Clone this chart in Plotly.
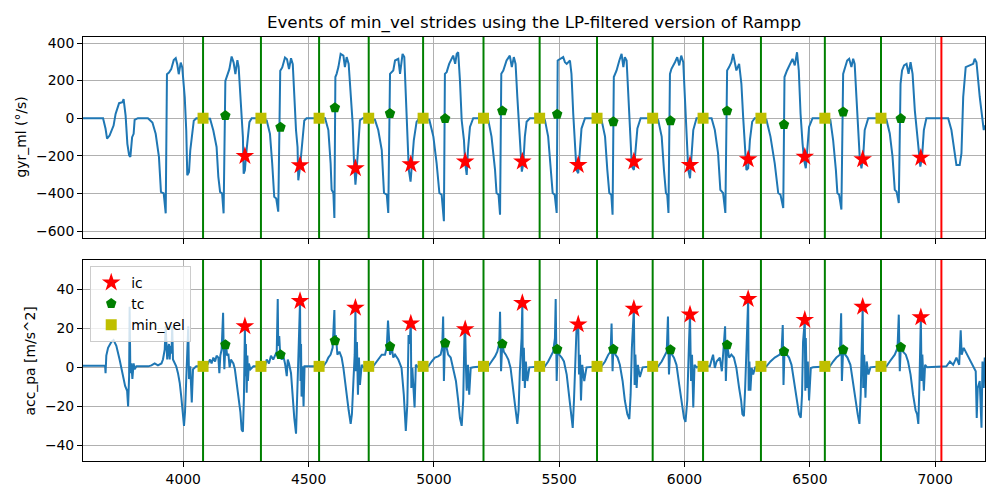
import plotly.graph_objects as go

TITLE = "Events of min_vel strides using the LP-filtered version of Rampp"

# ---------------- gyroscope (medio-lateral) signal ----------------
gyr_t = [
    3600, 3680, 3690, 3696, 3706, 3722, 3730, 3744, 3757, 3762, 3770, 3777, 3784, 3789, 3796, 3802, 3806, 3819,
    3859, 3877, 3890, 3903, 3911, 3922, 3930, 3935, 3943, 3952, 3962, 3970, 3976, 3982, 3990, 3996, 4006, 4012,
    4016, 4023, 4028, 4034, 4042, 4052,
    4080, 4107, 4120, 4133, 4140, 4147, 4155, 4161, 4168, 4173, 4184, 4193, 4201, 4208, 4216, 4221, 4228, 4234,
    4238, 4241, 4246, 4250, 4257, 4264, 4273,
    4312, 4333, 4346, 4355, 4363, 4371, 4379, 4387, 4395, 4406, 4414, 4422, 4430, 4437, 4443, 4450, 4456, 4459,
    4466, 4470, 4475, 4483, 4492,
    4542, 4566, 4579, 4588, 4592, 4599, 4603, 4607, 4612, 4619, 4628, 4639, 4645, 4652, 4660, 4668, 4676, 4681,
    4687, 4692, 4699, 4705, 4716,
    4740, 4765, 4778, 4792, 4801, 4812, 4818, 4825, 4838, 4845, 4858, 4865, 4875, 4882, 4888, 4894, 4900, 4907,
    4912, 4920, 4931, 4942,
    4956, 4982, 4998, 5011, 5022, 5031, 5040, 5044, 5051, 5061, 5077, 5085, 5091, 5097, 5104, 5111, 5120, 5125,
    5131, 5136, 5144, 5157,
    5200, 5217, 5230, 5244, 5250, 5258, 5264, 5269, 5277, 5290, 5303, 5311, 5319, 5326, 5333, 5339, 5346, 5351,
    5357, 5363, 5370, 5383,
    5423, 5443, 5456, 5466, 5474, 5482, 5490, 5494, 5503, 5516, 5523, 5530, 5543, 5549, 5556, 5563, 5569, 5576,
    5583, 5589, 5603,
    5651, 5669, 5683, 5692, 5700, 5708, 5713, 5718, 5729, 5740, 5749, 5756, 5762, 5769, 5776, 5782, 5790, 5798,
    5804, 5812, 5825,
    5875, 5895, 5909, 5918, 5926, 5931, 5936, 5942, 5948, 5962, 5971, 5979, 5987, 5995, 6002, 6008, 6015, 6022,
    6028, 6035, 6048,
    6074, 6108, 6121, 6134, 6143, 6154, 6163, 6170, 6178, 6187, 6194, 6201, 6207, 6218, 6227, 6234, 6241, 6247,
    6254, 6261, 6270, 6280,
    6303, 6327, 6343, 6360, 6374, 6383, 6394, 6399, 6409, 6420, 6431, 6440, 6449, 6456, 6463, 6471, 6477, 6484,
    6489, 6497, 6511,
    6560, 6582, 6593, 6604, 6610, 6617, 6626, 6633, 6640, 6649, 6657, 6666, 6673, 6679, 6686, 6693, 6699, 6706,
    6713, 6719, 6733,
    6783, 6806, 6819, 6830, 6839, 6846, 6855, 6862, 6868, 6876, 6886, 6894, 6902, 6910, 6919, 6926, 6935, 6941,
    6948, 6955, 6965, 7052, 7065, 7078, 7085, 7098, 7105, 7112, 7122, 7138, 7152, 7158, 7165, 7178, 7189, 7194,
    7198,
]
gyr_ml = [
    0, 0, -56, -109, -92, -39, 23, 80, 85, 102, 14, -136, -197, -206, -101, -83, -9, 0,
    0, -23, -83, -206, -392, -400, -506, 234, 243, 261, 309, 319, 287, 234, 296, 270, 111, -65,
    -303, -286, -171, -101, -13, 0,
    0, -3, -65, -153, -312, -392, -400, -506, 199, 217, 261, 328, 296, 234, 309, 273, 94, -30,
    -101, -295, -277, -206, -101, -21, 0,
    0, -12, -83, -242, -418, -427, -497, 252, 270, 323, 314, 261, 319, 287, 111, -65, -153, -330,
    -259, -189, -101, -12, 0,
    0, 0, -63, -240, -381, -398, -531, 219, 236, 272, 342, 333, 272, 325, 289, 113, -28, -222,
    -354, -275, -116, -11, 0,
    0, -9, -63, -169, -398, -407, -504, 236, 254, 307, 316, 236, 342, 325, 113, -11, -275, -337,
    -240, -116, -19, 0,
    0, -9, -98, -240, -398, -407, -548, 236, 245, 289, 333, 289, 342, 351, 201, -11, -116, -240,
    -302, -169, -46, 0,
    0, -9, -98, -275, -398, -407, -513, 236, 254, 307, 333, 272, 325, 289, 113, -28, -187, -284,
    -240, -98, -19, 0,
    0, -9, -98, -275, -398, -407, -504, 307, 316, 325, 298, 289, 307, 236, 25, -116, -275, -293,
    -169, -55, 0,
    0, -9, -98, -275, -398, -407, -513, 219, 254, 307, 342, 272, 325, 307, 113, -63, -257, -275,
    -169, -55, 0,
    0, -9, -98, -275, -398, -407, -504, 236, 263, 298, 325, 281, 333, 298, 113, -63, -275, -319,
    -204, -63, 0,
    0, 0, -63, -187, -381, -398, -504, 254, 272, 298, 342, 298, 254, 289, 183, 7, -134, -275,
    -266, -116, -19, 0,
    0, -9, -98, -240, -398, -407, -478, 219, 254, 289, 316, 281, 351, 254, 25, -134, -222, -266,
    -169, -46, 0,
    0, -9, -116, -275, -398, -407, -486, 236, 272, 307, 316, 272, 316, 289, 113, -63, -204, -266,
    -204, -63, 0,
    0, -9, -81, -204, -381, -390, -451, 183, 254, 281, 289, 236, 298, 236, 42, -63, -187, -257,
    -204, -63, 0, 0, -63, -187, -249, -249, -187, 113, 272, 281, 289, 316, 298, 113, -28, -63,
    -37,
]

# ---------------- accelerometer (posterior-anterior) signal ----------------
acc_t = [
    3600, 3688, 3690, 3693, 3700, 3713, 3722, 3733, 3746, 3760, 3768, 3776, 3780, 3784, 3786, 3789, 3793, 3797,
    3802, 3806, 3813, 3860, 3873, 3886, 3899, 3913, 3919, 3926, 3930, 3933, 3936, 3939, 3943, 3946, 3949, 3953,
    3956, 3959, 3966, 3972, 3979, 3986, 3992, 3999, 4003, 4007, 4010, 4015, 4020, 4023, 4028, 4034, 4039, 4052,
    4080, 4093, 4107, 4113, 4120, 4127, 4133, 4140, 4144, 4148, 4153, 4159, 4161, 4164, 4169, 4175, 4180, 4185,
    4190, 4200, 4206, 4213, 4220, 4228, 4233, 4238, 4242, 4246, 4248, 4250, 4253, 4256, 4258, 4262, 4268, 4280,
    4312, 4326, 4333, 4342, 4350, 4359, 4366, 4373, 4377, 4379, 4383, 4387, 4393, 4399, 4406, 4413, 4417, 4422,
    4430, 4437, 4443, 4450, 4455, 4459, 4466, 4468, 4470, 4472, 4476, 4480, 4484, 4492,
    4542, 4559, 4572, 4579, 4588, 4596, 4603, 4605, 4609, 4615, 4623, 4632, 4639, 4645, 4652, 4660, 4668, 4673,
    4679, 4684, 4687, 4689, 4693, 4697, 4701, 4705, 4712, 4719,
    4740, 4758, 4772, 4782, 4792, 4805, 4812, 4817, 4821, 4825, 4832, 4838, 4845, 4858, 4871, 4880, 4888, 4894,
    4899, 4903, 4908, 4910, 4914, 4918, 4923, 4928, 4938,
    4956, 4978, 4991, 5004, 5017, 5027, 5033, 5037, 5040, 5044, 5051, 5057, 5067, 5077, 5088, 5097, 5104, 5111,
    5117, 5122, 5125, 5128, 5131, 5136, 5141, 5147, 5157,
    5200, 5217, 5230, 5244, 5253, 5261, 5264, 5268, 5273, 5279, 5287, 5297, 5306, 5317, 5325, 5333, 5338, 5343,
    5350, 5353, 5355, 5359, 5363, 5367, 5373, 5381,
    5423, 5443, 5456, 5467, 5476, 5483, 5486, 5490, 5494, 5500, 5510, 5519, 5530, 5539, 5547, 5554, 5559, 5564,
    5569, 5576, 5579, 5583, 5587, 5592, 5600, 5609,
    5651, 5669, 5683, 5696, 5705, 5709, 5713, 5716, 5724, 5733, 5742, 5753, 5762, 5772, 5780, 5785, 5790, 5798,
    5801, 5804, 5809, 5814, 5822, 5833,
    5875, 5895, 5909, 5919, 5929, 5934, 5938, 5943, 5950, 5958, 5968, 5979, 5988, 5998, 6004, 6011, 6018, 6022,
    6026, 6030, 6035, 6040, 6048,
    6074, 6101, 6114, 6121, 6128, 6141, 6149, 6154, 6162, 6165, 6170, 6178, 6187, 6197, 6207, 6218, 6226, 6231,
    6237, 6242, 6247, 6254, 6256, 6259, 6263, 6268, 6274, 6282,
    6303, 6327, 6343, 6360, 6380, 6388, 6392, 6395, 6399, 6407, 6417, 6427, 6440, 6449, 6457, 6464, 6469, 6473,
    6480, 6482, 6484, 6488, 6492, 6497, 6504, 6513,
    6560, 6580, 6593, 6606, 6620, 6625, 6628, 6633, 6641, 6650, 6662, 6673, 6683, 6691, 6698, 6703, 6707, 6711,
    6713, 6717, 6722, 6727, 6734, 6742,
    6783, 6806, 6819, 6830, 6839, 6850, 6855, 6859, 6863, 6872, 6883, 6892, 6902, 6912, 6922, 6928, 6933, 6937,
    6943, 6946, 6949, 6955, 6960, 6968, 7045, 7059, 7072, 7085, 7096, 7102, 7106, 7114, 7122, 7136, 7152, 7162,
    7166, 7170, 7178, 7185, 7189, 7194, 7198,
]
acc_pa = [
    0.8, 0.8, -3, 6, 10, 13, 14, 11, 4, -4.5, -9.5, -12, -20, -4.5, 31, -3, 2, -6,
    2, -1, 0.5, 0.5, 1, 2, 1, 2, 4, 9, 21, 12, 4, 9, 12, 4, 11, 7,
    21, 4, 2, 0.5, -3, -8, -15, -23, -30, -23, -10, -1, 21, -6, 0.5, -18, -1, 0.5,
    0.5, 0.5, 4, 2, 5, 3, 6, 5, -3, 6, 9, 28, 11, -1, 14, 6, 7, 0,
    4, 2, -1, -8, -13, -23, -32, -33, -16, 21, -4.5, 12, -13, 6, -7, 2, -1, 0.5,
    0.5, 0.5, 4, 2, 6, 4, 6, 8, 35, 11, 16, 6, 4, 6, 2, -4.5, 4, 2,
    -3, -16, -26, -34, -18, 4, 34, -7, 12, -15, 0.5, -20, 0.5, 0.5,
    0.5, 0.5, 3, 5, 6.5, 10, 29.4, 11.5, 16.5, 6.5, 8, 5, -0.3, -7, -14, -22, -29, -24,
    -7, 6.5, 30.5, -2, 13, -14, 5, -9, 1.3, 0,
    0.5, 0.5, 3, 5, 6.5, 6.5, 10, 24, 13, 6.5, 10, 5, 6.5, 4, -0.3, -14, -32.6, -19,
    16.6, 12, 22.5, -10.6, -0.3, -12, -20.6, 1.3, 0,
    0.5, 0.5, 3, 5, 5.6, 6.5, 10, 26, -7, 12.4, 10, 6.5, 5, -0.3, -7, -17, -26, -30,
    -17, 16.6, 19.5, -0.3, -12, 1.3, -14, -0.3, 0,
    0.5, 0.5, 3, 5.6, 8, 12.4, 28.5, -2, 12.4, 8, 6.5, 4, -0.3, -10.6, -20.6, -29, -22, -2,
    15, 33, -7, 10, -10.6, 3, -7, 0,
    0.5, 0.5, 3, 5.6, 8, 15, 35, -7, 10, 6.5, 5, 3, -3.7, -14, -24, -31, -17, 6.5,
    19.2, 22, -3.7, 6.5, -17, 1.3, -7, 0,
    0.5, 0.5, 3, 6.5, 8, 22.5, -2, 10, 6.5, 5, 1.3, -7, -17, -24, -26.5, -14, 10, 30,
    -9, 6.5, -10.6, 1.3, -5, 0,
    0.5, 0.5, 3, 5.6, 8, 26, -3.7, 9, 6.5, 5, 1.3, -9, -17, -26, -28, -17, 13, 27,
    -7, 6.5, -20.6, 1.3, 0,
    0.5, 0.5, 6.5, -0.3, 3, 5, -2, 6.5, 21, -7, 11.5, 5, 6.5, 5, -0.3, -10.6, -17, -24,
    -25, -10.6, 13, 35, -12, 3, -12, -0.3, -3.7, 0,
    0.5, 0.5, 3, 5, 6.5, 10, 21.7, -9, 8, 6.5, 5, 1.3, -10.6, -17, -24, -25.8, -14, 13,
    24.3, -12, 15, -10.6, 3, -17, -0.3, 0,
    0.5, 0.5, 3, 5, 6.5, 27.7, -7, 9, 6.5, 5, 1.3, -9, -17, -24, -29, -14, 10, 31,
    -10.6, 6.5, -15.6, 3, -3.7, 0,
    0.5, 0.5, 3, 5, 6.5, 10, 27, -2, 10.7, 8, 6.5, 3, -3.7, -14, -22, -24, -29, -10.6,
    25.6, -7, 6.5, -12, 1.3, 0, 0.5, 3, 1.3, 5, 1.3, 19, 6.5, 10, 8, 5, 1.3, -2,
    -26, -10.6, -7, -31, 3, -10.6, 5,
]

# ---------------- gait events ----------------
min_vel_x = [4079, 4310, 4542, 4740, 4957, 5198, 5422, 5651, 5873, 6074, 6305, 6560, 6784]
min_vel_gyr = [0, 0, 0, 0, 0, 0, 0, 0, 0, 0, 0, 0, 0]
min_vel_acc = [0.5, 0.5, 0.5, 0.5, 0.5, 0.5, 0.5, 0.5, 0.5, 0.5, 0.5, 0.5, 0.5]

ic_x = [4246, 4466, 4687, 4908, 5125, 5353, 5576, 5798, 6022, 6254, 6480, 6711, 6943]
ic_gyr = [-201, -250, -266, -245, -231, -231, -249, -231, -249, -219, -205, -219, -210]
ic_acc = [21, 34, 30.5, 22.5, 19.5, 33, 22, 30, 27, 35, 24.3, 31, 25.6]

tc_x = [4168, 4388, 4605, 4825, 5045, 5273, 5492, 5716, 5944, 6170, 6397, 6633, 6863]
tc_gyr = [14, -48, 56, 25, -2, 39, 21, -19, -14, 39, -34, 33, -2]
tc_acc = [11.6, 6.5, 13.6, 10.7, 12.4, 12, 9.3, 9.3, 9, 11.5, 8.1, 9, 10.3]

stride_end_x = [7025]

x_range = [3600, 7199]
gyr_range = [-637, 432]
acc_range = [-48, 55]
x_ticks = [4000, 4500, 5000, 5500, 6000, 6500, 7000]
gyr_ticks = [-600, -400, -200, 0, 200, 400]
acc_ticks = [-40, -20, 0, 20, 40]

# ---------------- styling ----------------
FONT = "DejaVu Sans"
BLUE = "#1f77b4"
GREEN = "#008000"
YELLOW = "#bfbf00"
RED = "#ff0000"
GRID = "#b0b0b0"


def vlines(xs, yr):
    """Vertical lines spanning the whole y range of an axis, one per x value."""
    px, py = [], []
    for v in xs:
        px += [v, v, None]
        py += [yr[0], yr[1], None]
    return px, py


fig = go.Figure()

panels = [("", gyr_t, gyr_ml, gyr_range, ic_gyr, tc_gyr, min_vel_gyr, False),
          ("2", acc_t, acc_pa, acc_range, ic_acc, tc_acc, min_vel_acc, True)]

for ax, t, sig, yr, yv_ic, yv_tc, yv_mv, show in panels:
    xa, ya = "x" + ax, "y" + ax
    fig.add_trace(go.Scatter(x=t, y=sig, mode="lines", line=dict(color=BLUE, width=2),
                             xaxis=xa, yaxis=ya, showlegend=False, hoverinfo="skip"))
    gx, gy = vlines(min_vel_x, yr)
    fig.add_trace(go.Scatter(x=gx, y=gy, mode="lines", line=dict(color=GREEN, width=2),
                             xaxis=xa, yaxis=ya, showlegend=False, hoverinfo="skip"))
    rx, ry = vlines(stride_end_x, yr)
    fig.add_trace(go.Scatter(x=rx, y=ry, mode="lines", line=dict(color=RED, width=2),
                             xaxis=xa, yaxis=ya, showlegend=False, hoverinfo="skip"))
    fig.add_trace(go.Scatter(x=ic_x, y=yv_ic, mode="markers", name="ic",
                             marker=dict(symbol="star", size=14, color=RED, line=dict(width=0)),
                             xaxis=xa, yaxis=ya, showlegend=show))
    fig.add_trace(go.Scatter(x=tc_x, y=yv_tc, mode="markers", name="tc",
                             marker=dict(symbol="pentagon", size=11, color=GREEN, line=dict(width=0)),
                             xaxis=xa, yaxis=ya, showlegend=show))
    fig.add_trace(go.Scatter(x=min_vel_x, y=yv_mv, mode="markers", name="min_vel",
                             marker=dict(symbol="square", size=11, color=YELLOW, line=dict(width=0)),
                             xaxis=xa, yaxis=ya, showlegend=show))

axis_common = dict(showline=True, mirror=True, linecolor="black", linewidth=1,
                   ticks="outside", ticklen=5, tickwidth=1, tickcolor="black",
                   showgrid=True, gridcolor=GRID, gridwidth=1, zeroline=False,
                   tickfont=dict(family=FONT, size=13.9, color="black"))

fig.update_layout(
    width=1000, height=500,
    margin=dict(l=83, r=15, t=37, b=39),
    paper_bgcolor="white", plot_bgcolor="white",
    font=dict(family=FONT, size=13.9, color="black"),
    title=dict(text=TITLE, x=0.534, xanchor="center", y=1 - 22 / 500, yanchor="middle",
               yref="container", font=dict(family=FONT, size=16.7, color="black")),
    xaxis=dict(domain=[0, 1], range=x_range, anchor="y", tickvals=x_ticks,
               showticklabels=False, matches="x2", **axis_common),
    yaxis=dict(domain=[0.526, 1], range=gyr_range, anchor="x", tickvals=gyr_ticks, **axis_common),
    xaxis2=dict(domain=[0, 1], range=x_range, anchor="y2", tickvals=x_ticks, **axis_common),
    yaxis2=dict(domain=[0, 0.474], range=acc_range, anchor="x2", tickvals=acc_ticks, **axis_common),
    legend=dict(x=0.008, y=0.46, xanchor="left", yanchor="top",
                bgcolor="rgba(255,255,255,0.8)", bordercolor="#cccccc", borderwidth=1,
                font=dict(family=FONT, size=13.9, color="black")),
    annotations=[
        dict(text="gyr_ml (°/s)", xref="paper", yref="paper", x=-0.0687, y=0.763,
             xanchor="center", yanchor="middle", textangle=-90, showarrow=False,
             font=dict(family=FONT, size=13.9, color="black")),
        dict(text="acc_pa [m/s^2]", xref="paper", yref="paper", x=-0.0588, y=0.237,
             xanchor="center", yanchor="middle", textangle=-90, showarrow=False,
             font=dict(family=FONT, size=13.9, color="black")),
    ],
)

fig.write_html("out.html")
